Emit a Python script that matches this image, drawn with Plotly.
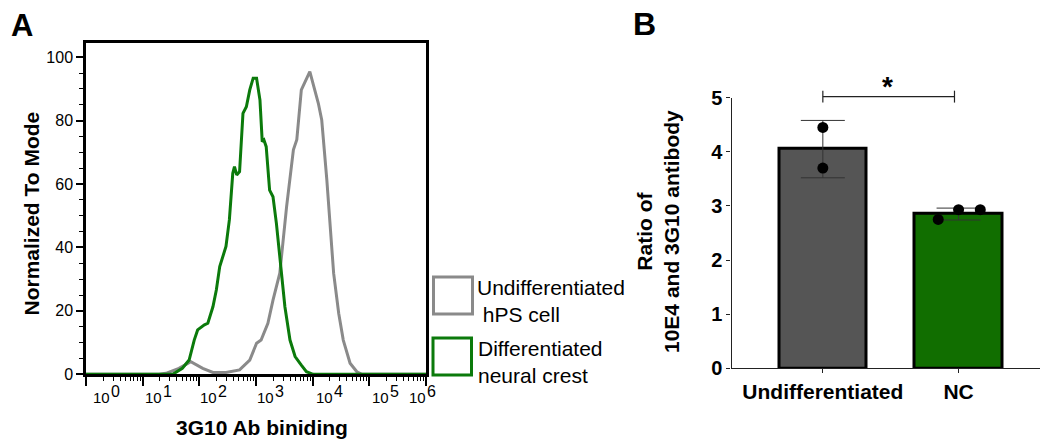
import plotly.graph_objects as go

# ---------------- Panel A data (flow cytometry histograms) ----------------
undiff_log10 = [0.00, 1.29, 1.41, 1.64, 1.85, 2.06, 2.24, 2.47, 2.71, 2.89, 3.01, 3.09, 3.21,
                3.30, 3.42, 3.54, 3.66, 3.72, 3.80, 3.95, 4.10, 4.16, 4.25, 4.37, 4.46, 4.54,
                4.66, 4.78, 4.87, 6.00]
undiff_mode = [0, 0, 0.3, 1.9, 4.0, 1.9, 0.6, 0.6, 1.4, 4.5, 9.8, 10.8, 16.1,
               23.4, 31.9, 52.9, 70.8, 74.0, 89.7, 95.5, 85.5, 80.2, 61.3, 31.9, 19.2, 10.8,
               3.5, 0.8, 0, 0]

nc_log10 = [0.00, 1.53, 1.70, 1.82, 1.91, 1.97, 2.09, 2.15, 2.24, 2.30, 2.36, 2.41, 2.47,
            2.53, 2.59, 2.62, 2.66, 2.71, 2.77, 2.83, 2.89, 2.95, 3.01, 3.07, 3.11, 3.14,
            3.18, 3.24, 3.30, 3.36, 3.42, 3.51, 3.60, 3.69, 3.80, 3.89, 4.01, 6.00]
nc_mode = [0, 0, 1.9, 4.5, 10.8, 14.0, 15.6, 16.1, 21.3, 26.6, 34.0, 37.1, 40.3,
           48.7, 63.4, 65.5, 62.9, 63.9, 82.3, 84.4, 89.7, 93.4, 93.4, 86.5, 73.4, 73.9,
           71.8, 58.1, 56.0, 47.6, 37.1, 21.3, 10.8, 5.6, 2.9, 0.8, 0, 0]

a_decades = [0, 1, 2, 3, 4, 5, 6]
a_yticks = [0, 20, 40, 60, 80, 100]
legend_labels = ["Undifferentiated<br> hPS cell", "Differentiated<br>neural crest"]

# ---------------- Panel B data (bar chart) ----------------
b_categories = ["Undifferentiated", "NC"]
b_means = [4.05, 2.85]
b_sd = [0.53, 0.11]
b_points = [[4.45, 3.70], [2.75, 2.93, 2.93]]
b_point_offsets = [[0.0, 0.0], [-0.15, 0.0, 0.16]]
b_yticks = [0, 1, 2, 3, 4, 5]

GRAY = "#8a8a8a"
GREEN = "#0b7a0b"
BAR_GRAY = "#555555"
BAR_GREEN = "#116e00"
FONT = "Liberation Sans, Arial, sans-serif"

W, H = 1040, 444
def px_x(p):
    return p / W
def px_y(p):
    return 1 - p / H

A_DOM_X = [px_x(86), px_x(426)]
A_DOM_Y = [px_y(374.3), px_y(43)]
B_DOM_X = [px_x(731.5), 1.0]
B_DOM_Y = [px_y(368.3), px_y(97.7)]
B_YMAX = 5.0

fig = go.Figure()

# Panel A curves
fig.add_trace(go.Scatter(
    x=[10 ** v for v in undiff_log10], y=undiff_mode, mode="lines",
    line=dict(color=GRAY, width=3), xaxis="x", yaxis="y", showlegend=False))
fig.add_trace(go.Scatter(
    x=[10 ** v for v in nc_log10], y=nc_mode, mode="lines",
    line=dict(color=GREEN, width=3), xaxis="x", yaxis="y", showlegend=False))

# Panel B bars
b_x = list(range(len(b_categories)))
fig.add_trace(go.Bar(
    x=b_x, y=b_means, width=0.643,
    marker=dict(color=[BAR_GRAY, BAR_GREEN], line=dict(color="black", width=3)),
    error_y=dict(type="data", array=b_sd, visible=True, color="#333333",
                 thickness=1, width=22),
    xaxis="x2", yaxis="y2", showlegend=False))

# Panel B individual points
pts_x, pts_y = [], []
for i, (vals, offs) in enumerate(zip(b_points, b_point_offsets)):
    for v, o in zip(vals, offs):
        pts_x.append(b_x[i] + o)
        pts_y.append(v)
fig.add_trace(go.Scatter(
    x=pts_x, y=pts_y, mode="markers",
    marker=dict(color="black", size=11), xaxis="x2", yaxis="y2",
    showlegend=False, cliponaxis=False))

minor_vals = [m * 10 ** d for d in a_decades[:-1] for m in range(2, 10)]

fig.update_layout(
    width=W, height=H,
    margin=dict(l=0, r=0, t=0, b=0, pad=0, autoexpand=False),
    paper_bgcolor="white", plot_bgcolor="white",
    font=dict(family=FONT, color="black"),
    bargap=0,
    xaxis=dict(
        type="log", domain=A_DOM_X, range=[a_decades[0], a_decades[-1]],
        automargin=False,
        showline=True, mirror=True, linecolor="black", linewidth=2.5,
        showgrid=False, zeroline=False,
        tickmode="array", tickvals=[10 ** d for d in a_decades],
        ticks="outside", ticklen=9, tickwidth=1.5, tickcolor="black",
        showticklabels=False,
        minor=dict(tickmode="array", tickvals=minor_vals, ticks="outside",
                   ticklen=4, tickwidth=1, tickcolor="black", showgrid=False),
        anchor="y",
    ),
    yaxis=dict(
        domain=A_DOM_Y, range=[0, 104.5],
        automargin=False,
        showline=True, mirror=True, linecolor="black", linewidth=2.5,
        showgrid=False, zeroline=False,
        tickmode="array", tickvals=a_yticks,
        ticks="outside", ticklen=7, tickwidth=1.5, tickcolor="black",
        tickfont=dict(size=16, family=FONT, color="black"),
        minor=dict(dtick=5, ticks="outside", ticklen=4, tickwidth=1,
                   tickcolor="black", showgrid=False),
        anchor="x",
    ),
    xaxis2=dict(
        domain=B_DOM_X, range=[-0.673, 1.60],
        automargin=False,
        showline=True, linecolor="#222222", linewidth=1.2,
        showgrid=False, zeroline=False,
        tickmode="array", tickvals=b_x,
        ticktext=["<b>%s</b>" % c for c in b_categories],
        ticks="outside", ticklen=4, tickwidth=1, tickcolor="#222222",
        tickfont=dict(size=21, family=FONT, color="black"),
        anchor="y2",
    ),
    yaxis2=dict(
        domain=B_DOM_Y, range=[0, B_YMAX],
        automargin=False,
        showline=True, linecolor="#222222", linewidth=1.2,
        showgrid=False, zeroline=False,
        tickmode="array", tickvals=b_yticks,
        ticktext=["<b>%d</b>" % t for t in b_yticks],
        ticks="outside", ticklen=4, tickwidth=1, tickcolor="#222222",
        tickfont=dict(size=20, family=FONT, color="black"),
        anchor="x2",
    ),
)

ann = []
def text_at(text, x, y, size, xanchor="center", yanchor="middle", **kw):
    d = dict(text=text, x=px_x(x), y=px_y(y), xref="paper", yref="paper",
             xanchor=xanchor, yanchor=yanchor, showarrow=False,
             font=dict(size=size, family=FONT, color="black"))
    d.update(kw)
    ann.append(d)

# Panel letters
text_at("<b>A</b>", 21.5, 26, 31)
text_at("<b>B</b>", 644, 24, 32)

# Panel A axis titles
text_at("<b>Normalized To Mode</b>", 31, 213.5, 21, textangle=-90)
text_at("<b>3G10 Ab biniding</b>", 262, 427, 21)

# Panel A decade tick labels: small "10" with a larger raised exponent (FlowJo style)
label_shift = [6, 1, 0, 0, 2, 2, -18]
for d, sh in zip(a_decades, label_shift):
    ann.append(dict(text="10", x=d, y=px_y(397.5), xref="x", yref="paper",
                    showarrow=False, xanchor="left", yanchor="middle", xshift=sh - 1,
                    font=dict(size=15, family=FONT, color="black")))
    ann.append(dict(text=str(d), x=d, y=px_y(391), xref="x", yref="paper",
                    showarrow=False, xanchor="left", yanchor="middle", xshift=sh + 17,
                    font=dict(size=16, family=FONT, color="black")))

# Panel A legend (boxes + labels)
legend_boxes = [(433.5, 277, 472.5, 314, GRAY), (433, 338, 471.5, 375, GREEN)]
legend_text_pos = [(475, 301), (476, 362)]
shapes = []
for (x0, y0, x1, y1, col), lab, (tx, ty) in zip(legend_boxes, legend_labels, legend_text_pos):
    shapes.append(dict(type="rect", xref="paper", yref="paper",
                       x0=px_x(x0), x1=px_x(x1), y0=px_y(y1), y1=px_y(y0),
                       line=dict(color=col, width=3), fillcolor="white"))
    text_at(lab, tx, ty, 21, xanchor="left", align="left")

# Panel B y-axis title
text_at("<b>Ratio of<br>10E4 and 3G10 antibody</b>", 658, 232, 21, textangle=-90)

# Significance bracket (in data units of panel B, converted to paper)
def b_paper_y(v):
    return B_DOM_Y[0] + (v / B_YMAX) * (B_DOM_Y[1] - B_DOM_Y[0])
sig_level = 5.02
sig_tick = 0.11
shapes.append(dict(type="line", xref="x2", yref="paper", x0=b_x[0], x1=0.97,
                   y0=b_paper_y(sig_level), y1=b_paper_y(sig_level),
                   line=dict(color="#222222", width=1.2)))
for xx in (b_x[0], 0.97):
    shapes.append(dict(type="line", xref="x2", yref="paper", x0=xx, x1=xx,
                       y0=b_paper_y(sig_level - sig_tick), y1=b_paper_y(sig_level + sig_tick),
                       line=dict(color="#222222", width=1.2)))
ann.append(dict(text="<b>*</b>", x=0.48, y=px_y(86.5), xref="x2", yref="paper",
                showarrow=False, xanchor="center", yanchor="middle",
                font=dict(size=28, family=FONT, color="black")))

fig.update_layout(annotations=ann, shapes=shapes)
fig.write_html("out.html", config={"displayModeBar": False},
               post_script="document.body.style.margin='0';document.body.style.overflow='hidden';")
